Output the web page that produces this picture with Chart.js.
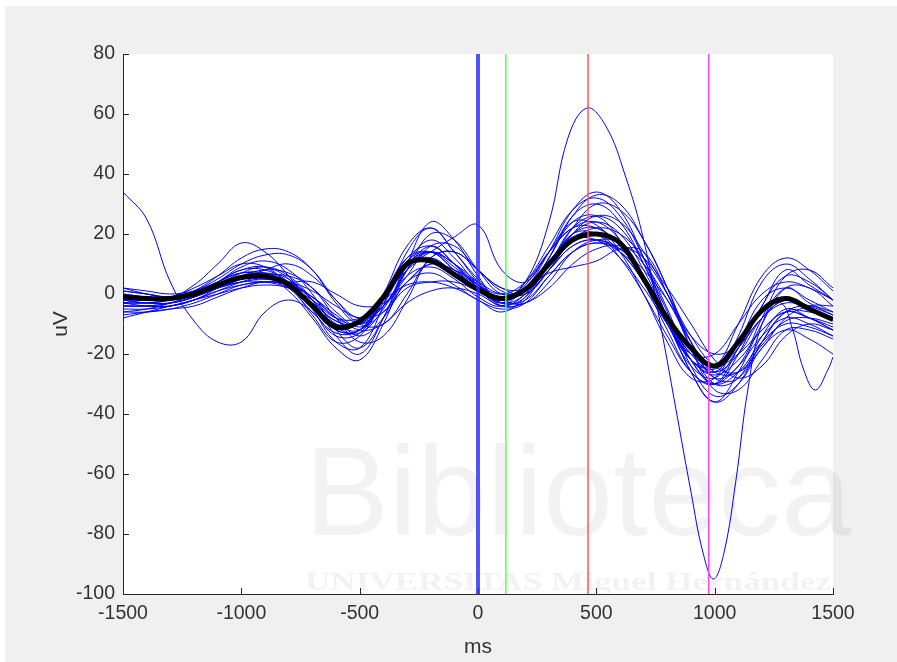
<!DOCTYPE html>
<html>
<head>
<meta charset="utf-8">
<script src="https://cdn.jsdelivr.net/npm/chart.js@4.4.1/dist/chart.umd.min.js"></script>
<style>
  body { margin: 0; background: #fff; }
  canvas { display: block; }
</style>
</head>
<body>
<canvas id="erpChart" width="897" height="662"></canvas>
<script>
// sample times (ms)
const ms = [-1500,-1400,-1300,-1200,-1100,-1000,-900,-800,-700,-600,-500,-400,-300,-200,-100,0,100,200,300,400,500,600,700,800,900,1000,1100,1200,1300,1400,1500];

// grand average (uV)
const meanUV = [-1,-1.5,-1.5,0,3,5.5,6,3,-4,-11,-9,-1,10,11,6.5,1.5,-1.5,1.5,10,18,20,17,5,-8,-18,-24,-16,-5.5,-1.5,-5,-8.5];

// single trials (uV)
const t01 = [2,0,-1,3,10,17,14,6,-4,-12,-12,0,16,22,14,5,-2,4,16,28,32,26,12,-5,-22,-30,-20,-4,6,4,-2];
const t02 = [0,-1,-2,1,6,12,15,14,8,-3,-10,-4,8,20,18,8,0,2,12,26,33,30,18,2,-16,-28,-24,-8,6,8,2];
const t03 = [-6,-6,-5,-3,0,3,4,3,-1,-8,-14,-8,4,7,3,-2,-5,-3,6,14,17,14,6,-8,-22,-30,-26,-16,-10,-11,-14];
const t04 = [-3,-3,-3,-1,3,7,9,6,-2,-14,-20,-8,10,18,12,3,-3,0,10,22,26,22,10,-6,-24,-34,-30,-18,-12,-15,-20];
const t05 = [-8,-6,-4,-2,1,3,4,4,1,-4,-8,-6,2,4,4,1,-3,-2,6,14,17,15,8,-2,-14,-20,-17,-8,-2,-5,-8];
const t06 = [1,0,-1,0,2,5,8,10,6,-2,-10,-10,0,12,14,8,1,0,8,18,22,20,12,0,-14,-24,-26,-18,-8,-4,-4];
const t07 = [-2,-2,-2,0,4,8,9,5,-5,-16,-18,-4,14,22,14,4,-4,-2,12,24,26,18,4,-12,-26,-30,-18,-4,8,3,-2];
const t08 = [-4,-4,-4,-2,1,4,6,6,2,-6,-11,-6,4,10,8,3,-2,-3,4,14,18,17,10,-2,-16,-26,-26,-17,-9,-8,-10];
const t09 = [0,-1,-1,2,6,10,9,3,-7,-16,-14,-2,12,16,10,2,-3,3,14,24,23,14,0,-16,-28,-28,-14,4,10,5,-2];
const t10 = [-5,-5,-4,-2,0,2,3,2,-2,-8,-8,-2,3,4,2,-2,-6,-1,8,16,18,15,6,-8,-20,-24,-20,-12,-6,-8,-12];
const t11 = [-2,-3,-3,-1,2,5,5,3,-3,-10,-9,0,12,14,8,3,0,4,14,22,22,16,5,-9,-22,-24,-10,6,12,8,1];
const t12 = [-7,-6,-5,-4,-1,2,4,3,-1,-7,-12,-10,-3,1,2,0,-4,-3,2,10,15,16,12,2,-10,-22,-28,-24,-14,-10,-12];
const t13 = [1,0,-1,1,5,10,13,13,8,-2,-8,-4,6,16,16,8,2,0,8,20,26,24,14,0,-16,-28,-28,-16,-6,-4,-6];
const t14 = [-3,-2,-2,0,3,6,6,2,-6,-13,-12,-2,10,12,6,1,-2,2,11,19,20,14,4,-10,-22,-27,-22,-12,-6,-8,-11];
const t15 = [-1,-1,-1,1,4,7,7,4,-3,-11,-13,-5,8,14,10,3,-1,1,10,20,24,20,8,-8,-22,-26,-16,-2,2,-2,-6];
const t16 = [-4,-4,-3,-1,2,4,4,2,-3,-9,-10,-2,10,14,10,4,-2,2,14,28,34,28,12,-8,-26,-36,-30,-16,-6,-6,-8];
const t17 = [-6,-5,-3,0,4,7,6,1,-8,-18,-22,-10,8,16,10,2,-4,0,10,20,20,12,0,-14,-26,-30,-24,-14,-8,-10,-14];
const t18 = [2,1,0,1,3,5,5,4,4,0,-4,-3,4,10,8,4,0,2,10,18,18,12,2,-10,-20,-20,-10,0,4,2,-2];
const t19 = [-3,-4,-4,-2,2,6,8,7,2,-8,-16,-14,-2,12,14,8,2,2,10,22,30,28,18,2,-18,-32,-32,-22,-12,-12,-15];
const t20 = [-1,-2,-2,0,4,9,11,8,0,-12,-18,-8,10,24,18,6,-3,-1,12,26,30,24,10,-8,-26,-36,-26,-10,2,2,-4];
const t21 = [34,25,4,-9,-16,-16,-6,-2,-6,-14,-13,-2,8,12,7,2,-2,1,8,16,18,14,4,-10,-22,-25,-18,-8,-3,-5,-9];
const t22 = [-2,-3,-2,0,3,6,7,5,-2,-9,-10,-2,9,14,19,23,8,4,14,22,24,18,6,-8,-20,-26,-20,-8,-2,-4,-7];
const t23 = [-3,-3,-2,0,2,4,5,4,-1,-8,-10,-4,6,9,5,-1,-4,2,7,9,11,15,14,0,-18,-30,-28,-14,-5,-8,-12];

// trials with a finer time base around their big swings
const msBig = [-1500,-1400,-1300,-1200,-1100,-1000,-900,-800,-700,-600,-500,-400,-300,-200,-100,0,100,200,300,380,460,540,620,700,780,840,900,950,995,1040,1090,1140,1200,1300,1400,1500];
const tBig = [-2,-2,-2,0,4,8,8,4,-4,-12,-12,-2,11,14,8,2,-2,4,24,52,62,56,40,18,-14,-40,-66,-86,-95,-86,-62,-32,-10,2,-3,-7];
const msDip = [-1500,-1400,-1300,-1200,-1100,-1000,-900,-800,-700,-600,-500,-400,-300,-200,-100,0,100,200,300,400,500,600,700,800,900,1000,1100,1200,1280,1330,1375,1425,1480,1500];
const tDip = [-4,-4,-3,-1,2,5,6,4,-2,-10,-12,-3,9,14,9,3,-2,1,10,20,22,16,4,-10,-24,-28,-18,-6,-3,-12,-25,-32,-25,-21];

// event markers (ms)
const markerMs = [0, 118, 465, 975];
const markerColors = ["rgba(40,40,255,0.8)", "#55ff55", "#ff5555", "#ff44ff"];
const markerWidths = [4, 1.5, 1.5, 1.5];

const yTicks = [-100, -80, -60, -40, -20, 0, 20, 40, 60, 80];
const xTicks = [-1500, -1000, -500, 0, 500, 1000, 1500];

const trials = [t01,t02,t03,t04,t05,t06,t07,t08,t09,t10,t11,t12,t13,t14,t15,t16,t17,t18,t19,t20,t21,t22,t23];

function pts(times, vals) {
    return times.map((t, i) => ({ x: t, y: vals[i] }));
}

const datasets = [];
markerMs.forEach((m, i) => {
    datasets.push({
        data: [{ x: m, y: -100 }, { x: m, y: 80 }],
        borderColor: markerColors[i],
        borderWidth: markerWidths[i],
        pointRadius: 0,
        tension: 0
    });
});
datasets.push({
    data: pts(ms, meanUV),
    borderColor: "#000",
    borderWidth: 5,
    pointRadius: 0,
    tension: 0.4
});
trials.forEach(tr => {
    datasets.push({ data: pts(ms, tr), borderColor: "#0000ff", borderWidth: 1, pointRadius: 0, tension: 0.4 });
});
datasets.push({ data: pts(msBig, tBig), borderColor: "#0000ff", borderWidth: 1, pointRadius: 0, tension: 0.4 });
datasets.push({ data: pts(msDip, tDip), borderColor: "#0000ff", borderWidth: 1, pointRadius: 0, tension: 0.4 });

const figurePlugin = {
    id: "figure",
    beforeDraw(chart) {
        const ctx = chart.ctx;
        const a = chart.chartArea;
        ctx.save();
        ctx.fillStyle = "#fff";
        ctx.fillRect(0, 0, chart.width, chart.height);
        ctx.fillStyle = "#f0f0f0";
        ctx.fillRect(5, 6, chart.width - 5, chart.height - 6);
        ctx.fillStyle = "#fff";
        ctx.fillRect(a.left, a.top, a.right - a.left, a.bottom - a.top);
        ctx.restore();
    },
    beforeDatasetsDraw(chart) {
        const ctx = chart.ctx;
        const a = chart.chartArea;
        // faint watermark
        ctx.save();
        ctx.fillStyle = "rgba(0,0,0,0.05)";
        ctx.font = "126px 'Liberation Sans', Arial, sans-serif";
        ctx.textBaseline = "alphabetic";
        ctx.fillText("Biblioteca", 305, 535);
        ctx.translate(305, 590);
        ctx.scale(1.35, 1);
        ctx.font = "bold 26px 'Liberation Serif', serif";
        ctx.fillText("UNIVERSITAS Miguel Hernández", 0, 0);
        ctx.restore();
        // inward ticks
        const xs = chart.scales.x, ys = chart.scales.y;
        ctx.save();
        ctx.strokeStyle = "#262626";
        ctx.lineWidth = 1;
        ctx.beginPath();
        xs.ticks.forEach(t => {
            const px = Math.round(xs.getPixelForValue(t.value)) + 0.5;
            ctx.moveTo(px, a.bottom);
            ctx.lineTo(px, a.bottom - 6);
        });
        ys.ticks.forEach(t => {
            const py = Math.round(ys.getPixelForValue(t.value)) + 0.5;
            ctx.moveTo(a.left, py);
            ctx.lineTo(a.left + 6, py);
        });
        ctx.stroke();
        ctx.restore();
    }
};

const tickFont = { family: "'Liberation Sans', Arial, Helvetica, sans-serif", size: 19.5 };

new Chart(document.getElementById("erpChart").getContext("2d"), {
    type: "line",
    data: { datasets: datasets },
    plugins: [figurePlugin],
    options: {
        responsive: false,
        animation: false,
        events: [],
        layout: { padding: { left: 0, top: 54, right: 64, bottom: 0 } },
        plugins: { legend: { display: false }, tooltip: { enabled: false } },
        scales: {
            x: {
                type: "linear",
                min: -1500,
                max: 1500,
                afterBuildTicks: s => { s.ticks = xTicks.map(v => ({ value: v })); },
                afterFit: s => { s.height = 68; },
                grid: { display: false, drawTicks: false },
                border: { display: true, color: "#262626", width: 1 },
                ticks: { color: "#333333", font: tickFont, padding: 8, maxRotation: 0, callback: v => String(v) },
                title: { display: true, text: "ms", color: "#333333", font: { family: tickFont.family, size: 21 }, padding: { top: 0, bottom: 2 } }
            },
            y: {
                type: "linear",
                min: -100,
                max: 80,
                afterBuildTicks: s => { s.ticks = yTicks.map(v => ({ value: v })); },
                afterFit: s => { s.width = 123; },
                grid: { display: false, drawTicks: false },
                border: { display: true, color: "#262626", width: 1 },
                ticks: { color: "#333333", font: tickFont, padding: 8, callback: v => String(v) },
                title: { display: true, text: "uV", color: "#333333", font: { family: tickFont.family, size: 21 }, padding: { top: 49, bottom: 0 } }
            }
        }
    }
});
</script>
</body>
</html>
